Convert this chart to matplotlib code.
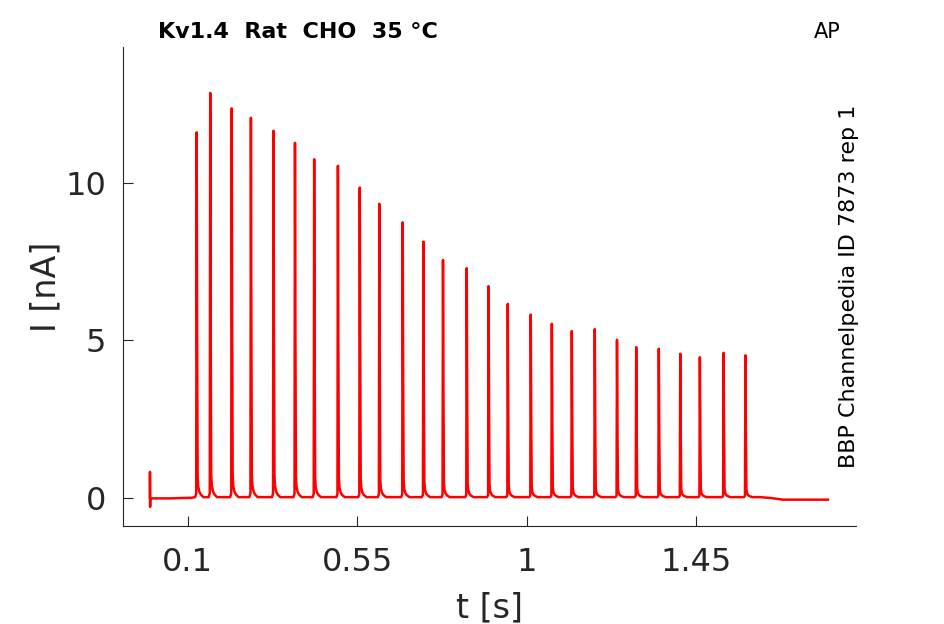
import numpy as np
import matplotlib
matplotlib.use("Agg")
import matplotlib.pyplot as plt

# spike times [s] and peak currents [nA]
spike_t = [0.124, 0.160, 0.217, 0.268, 0.328, 0.385, 0.436, 0.499, 0.557,
           0.609, 0.671, 0.726, 0.778, 0.841, 0.899, 0.950, 1.011, 1.067,
           1.120, 1.181, 1.240, 1.291, 1.351, 1.408, 1.460, 1.523, 1.581]
spike_peak = [11.55, 12.80, 12.31, 12.01, 11.60, 11.22, 10.70, 10.49, 9.80,
              9.29, 8.70, 8.09, 7.51, 7.25, 6.68, 6.12, 5.78, 5.49,
              5.26, 5.32, 4.98, 4.75, 4.70, 4.54, 4.43, 4.57, 4.49]

# shape of a single spike: offset from peak [s] and fraction of peak
shape_dt = [-0.004, -0.0012, 0.0, 0.0012, 0.0025, 0.004, 0.007, 0.011, 0.018]
shape_frac = [0.0, 0.01, 1.0, 0.45, 0.06, 0.03, 0.015, 0.007, 0.0]

# capacitive artefact at t = 0
onset_t = [0.0, 0.0, 0.0004, 0.0008, 0.003]
onset_i = [0.0, 0.84, -0.27, -0.05, 0.0]

# trailing part after the last spike
tail_t = [1.62, 1.65, 1.68, 1.80]
tail_i = [0.04, 0.01, -0.04, -0.04]

base_level = 0.04

t = list(onset_t)
i = list(onset_i)
t += [0.05, 0.11]
i += [0.0, 0.02]
for st, pk in zip(spike_t, spike_peak):
    for dt, fr in zip(shape_dt, shape_frac):
        t.append(st + dt)
        i.append(base_level + fr * pk)
t += tail_t
i += tail_i

fig = plt.figure(figsize=(9.45, 6.24), dpi=100)
ax = fig.add_axes([0.130, 0.157, 0.776, 0.768])
ax.plot(t, i, color="#ff0000", linewidth=1.8)

ax.set_xlim(-0.072, 1.875)
ax.set_ylim(-0.875, 14.3)
ax.set_xticks([0.1, 0.55, 1, 1.45])
ax.set_xticklabels(["0.1", "0.55", "1", "1.45"])
ax.set_yticks([0, 5, 10])

for side in ["top", "right"]:
    ax.spines[side].set_visible(False)
for side in ["left", "bottom"]:
    ax.spines[side].set_color("#262626")
    ax.spines[side].set_linewidth(0.8)
ax.tick_params(direction="in", length=7, width=0.8, colors="#262626",
               labelsize=23)
ax.tick_params(axis="x", pad=15)
ax.tick_params(axis="y", pad=12)

ax.set_xlabel("t [s]", fontsize=24, color="#262626", labelpad=10)
ax.set_ylabel("I [nA]", fontsize=24, color="#262626", labelpad=2)

ax.text(0.048, 1.03, "Kv1.4  Rat  CHO  35 °C", transform=ax.transAxes,
        fontsize=16, fontweight="bold", ha="left", va="center")
ax.text(0.960, 1.03, "AP", transform=ax.transAxes, fontsize=15,
        ha="center", va="center")
ax.text(0.990, 0.50, "BBP Channelpedia ID 7873 rep 1", transform=ax.transAxes,
        fontsize=16, rotation=90, ha="center", va="center")

fig.savefig("out.png", dpi=100)
